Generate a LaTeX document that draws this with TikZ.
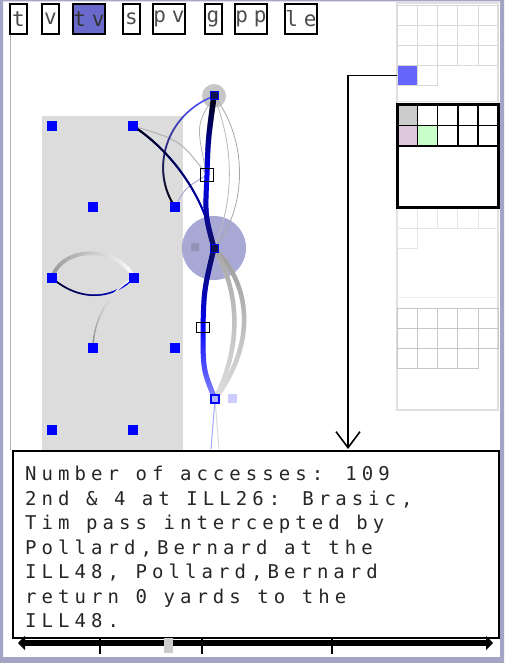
\documentclass[tikz,border=0pt]{standalone}
\usepackage{fontspec}
\usetikzlibrary{arrows.meta,fadings,backgrounds}
\newfontfamily\infofont[LetterSpace=26.6]{DejaVu Sans Mono}
\newfontfamily\buttonfont{DejaVu Sans Mono}
\definecolor{framecolor}{HTML}{A4A4C4}
\definecolor{panelgray}{HTML}{DCDCDC}
\definecolor{selcolor}{HTML}{6666FF}
\definecolor{tabcolor}{HTML}{6A6ACC}
\definecolor{zonecolor}{HTML}{9999CC}
\definecolor{pinkcell}{HTML}{DDC8DD}
\definecolor{greencell}{HTML}{C8FFC8}
\definecolor{textgray}{HTML}{262626}
\definecolor{navy}{HTML}{101050}
\tikzfading[name=fade down, top color=transparent!0, bottom color=transparent!100]
\tikzfading[name=fade up, top color=transparent!100, bottom color=transparent!0]
\tikzfading[name=fade right, left color=transparent!0, right color=transparent!100]
\newcommand{\nodecolor}{blue}
\newcommand{\nodesize}{10pt}
\newcommand{\cellw}{20.25}
\newcommand{\gap}{\kern5.8pt}
\tikzset{
  button/.style={draw, line width=2pt, minimum height=30pt, inner sep=0pt,
    font=\buttonfont\fontsize{21pt}{21pt}\selectfont, text=black!70},
  cell/.style={draw=gray!30, line width=0.8pt},
}

\begin{document}
\begin{tikzpicture}[x=1pt, y=-1pt]
\useasboundingbox (0,0) rectangle (504,663);
%buttons
\node[button, minimum width=17pt] (t) at (18.5,19) {t};
\node[button, minimum width=17pt] (v) at (50.5,19) {v};
\node[button, minimum width=32pt, fill=tabcolor, text=black!80] (tv) at (89,19) {t\gap v};
\node[button, minimum width=17pt] (s) at (131.5,19) {s};
\node[button, minimum width=32pt] (pv) at (169,19) {p\gap v};
\node[button, minimum width=17pt] (g) at (213,19) {g};
\node[button, minimum width=32pt] (pp) at (251,19) {p\gap p};
\node[button, minimum width=32pt] (le) at (301,19) {l\gap e};
\draw[gray!60] (10,35) -- (10,450);
%nodes
\node[fill=\nodecolor, inner sep=0pt, minimum size=\nodesize] (1) at (52,126) [rectangle] {};
\node[fill=\nodecolor, inner sep=0pt, minimum size=\nodesize] (2) at (133,126) [rectangle] {};
\node[fill=\nodecolor, inner sep=0pt, minimum size=\nodesize] (3) at (93,207) [rectangle] {};
\node[fill=\nodecolor, inner sep=0pt, minimum size=\nodesize] (4) at (175,207) [rectangle] {};
\node[fill=\nodecolor, inner sep=0pt, minimum size=\nodesize] (5) at (52,278) [rectangle] {};
\node[fill=\nodecolor, inner sep=0pt, minimum size=\nodesize] (6) at (134,278) [rectangle] {};
\node[fill=\nodecolor, inner sep=0pt, minimum size=\nodesize] (7) at (93,348) [rectangle] {};
\node[fill=\nodecolor, inner sep=0pt, minimum size=\nodesize] (8) at (175,348) [rectangle] {};
\node[fill=\nodecolor, inner sep=0pt, minimum size=\nodesize] (9) at (52,430) [rectangle] {};
\node[fill=\nodecolor, inner sep=0pt, minimum size=\nodesize] (10) at (133,430) [rectangle] {};
\node[fill=navy, draw=blue, line width=1pt, inner sep=0pt, minimum size=8pt] (11) at (214,96) [rectangle] {};
\node[fill=navy, draw=blue, line width=1pt, inner sep=0pt, minimum size=8pt] (12) at (214,248) [rectangle] {};
\node[fill=blue!30, draw=blue, line width=1.2pt, inner sep=0pt, minimum size=8pt] (13) at (215,399) [rectangle] {};
\node[draw, line width=1pt, inner sep=0pt, minimum width=13pt, minimum height=13pt] (14) at (207,175) {};
\node[draw, line width=1pt, inner sep=0pt, minimum width=13pt, minimum height=10pt] (15) at (203,327) {};
\coordinate (tail1) at (211,449);
\coordinate (tail2) at (219,449);
%panel and zones
\begin{scope}[on background layer]
\fill[panelgray] (42,116) rectangle (183,450);
\fill[gray!55, opacity=0.8] (11) circle (12pt);
\fill[zonecolor, opacity=0.85] (12) circle (32pt);
\fill[zonecolor!70!gray] (191,243) rectangle (199,251);
\fill[blue!20] (228,394) rectangle (237,403);
\end{scope}
%curves
\begin{scope}[on background layer]
\draw[gray!70, line width=0.8pt] (11.center) .. controls (249,140) and (247,210) .. (12.center);
\draw[gray!55, line width=0.8pt] (11.center) .. controls (235,150) and (234,200) .. (12.center);
\draw[gray!60, line width=0.8pt] (11.center) .. controls (196,125) .. (14.center);
\draw[gray!60, line width=1pt] (2.center) .. controls (180,140) .. (14.center);
\draw[blue!30!gray!50, line width=1pt] (4.center) .. controls (185,188) .. (14.center);
\draw[blue!70, line width=1.5pt] (11.center) .. controls (165,115) and (150,170) .. (4.center);
\draw[black, line width=2pt, path fading=fade up] (11.center) .. controls (165,115) and (150,170) .. (4.center);
\draw[\nodecolor, line width=2pt] (2.center) .. controls (170,150) and (205,195) .. (12.center);
\draw[black, line width=2pt, path fading=fade down] (2.center) .. controls (170,150) and (205,195) .. (12.center);
\draw[white, line width=4pt] (5.center) .. controls (62,245) and (118,245) .. (6.center);
\draw[gray!80, line width=4pt, path fading=fade right] (5.center) .. controls (62,245) and (118,245) .. (6.center);
\draw[\nodecolor, line width=1.5pt] (5.center) .. controls (80,302) and (112,300) .. (6.center);
\draw[black, line width=1.5pt, path fading=fade right] (5.center) .. controls (80,302) and (112,300) .. (6.center);
\draw[white, line width=1.5pt] (6.center) .. controls (110,290) and (93,320) .. (7.center);
\draw[gray, line width=1.5pt, path fading=fade up] (6.center) .. controls (110,290) and (93,320) .. (7.center);
\draw[gray!25, line width=4.5pt] (12.center) .. controls (256,290) and (252,350) .. (13.center);
\draw[gray!80, line width=4.5pt, path fading=fade down] (12.center) .. controls (256,290) and (252,350) .. (13.center);
\draw[gray!25, line width=4.5pt] (12.center) .. controls (242,295) and (240,350) .. (13.center);
\draw[gray!70, line width=4.5pt, path fading=fade down] (12.center) .. controls (242,295) and (240,350) .. (13.center);
\draw[\nodecolor, line width=5pt] (11.center) .. controls (208,140) .. (14.center) .. controls (205,215) .. (12.center);
\draw[black, line width=5.5pt, path fading=fade down] (11.center) .. controls (208,140) .. (14.center);
\draw[navy, line width=5pt, path fading=fade up] (14.center) .. controls (205,215) .. (12.center);
\draw[\nodecolor, line width=5pt] (12.center) .. controls (204,290) .. (15.center) .. controls (203,370) .. (13.center);
\draw[navy, line width=5pt, path fading=fade down] (12.center) .. controls (204,290) .. (15.center);
\draw[white, opacity=0.55, line width=5pt, path fading=fade up] (15.center) .. controls (203,370) .. (13.center);
\draw[blue!35, line width=1pt] (13.center) -- (tail1);
\draw[gray!30, line width=1pt] (13.center) -- (tail2);
\end{scope}
%grid
\draw[gray!25, line width=1.5pt] (397,3) rectangle (498,410);
\draw[gray!25, line width=1pt] (397,102) -- (498,102);
\draw[gray!15, line width=1pt] (397,297) -- (498,297);
\foreach \r in {0,1,2}
  \foreach \c in {0,...,4}
    \draw[cell] (397+\c*\cellw,5+\r*20) rectangle ++(\cellw,20);
\draw[cell] (397+\cellw,65) rectangle ++(\cellw,20);
\node[fill=selcolor, draw=gray!30, line width=0.8pt, inner sep=0pt, minimum width=\cellw pt, minimum height=20pt, anchor=north west] (sel) at (397,65) {};
\foreach \c in {0,...,4}
  \draw[cell, draw=gray!20] (397+\c*\cellw,208) rectangle ++(\cellw,20);
\draw[cell, draw=gray!20] (397,228) rectangle ++(\cellw,20);
\foreach \r in {0,1}
  \foreach \c in {0,...,4}
    \draw[cell, draw=gray!45] (397+\c*\cellw,308+\r*20) rectangle ++(\cellw,20);
\foreach \c in {0,...,3}
  \draw[cell, draw=gray!45] (397+\c*\cellw,348) rectangle ++(\cellw,20);
\fill[gray!40] (397,105) rectangle ++(\cellw,20.5);
\fill[pinkcell] (397,125.5) rectangle ++(\cellw,20.5);
\fill[greencell] (397+\cellw,125.5) rectangle ++(\cellw,20.5);
\foreach \r in {0,1}
  \foreach \c in {0,...,4}
    \draw[line width=1.5pt] (397+\c*\cellw,105+\r*20.5) rectangle ++(\cellw,20.5);
\draw[line width=3pt] (397,105) rectangle (498,207);
%info
\coordinate (drop) at (348,449);
\draw[line width=1.6pt, -{Straight Barb[length=16pt,width=24pt]}] (sel.west) -| (drop);
\node[draw, line width=2pt, inner sep=0pt, minimum width=486pt, minimum height=187pt, anchor=north west] (info) at (11.5,450) {};
\node[inner sep=0pt, anchor=north west, align=left, text=textgray,
  font=\infofont\fontsize{19pt}{24.5pt}\selectfont] (infotext) at (25,466)
  {Number of accesses: 109\\
   2nd \& 4 at ILL26: Brasic,\\
   Tim pass intercepted by\\
   Pollard,Bernard at the\\
   ILL48, Pollard,Bernard\\
   return 0 yards to the\\
   ILL48.};
%timeline
\coordinate (barl) at (18,643);
\coordinate (barr) at (493,643);
\draw[line width=6pt, {Triangle[length=7pt,width=14pt]}-{Triangle[length=7pt,width=14pt]}] (barl) -- (barr);
\foreach \x in {100,202,332}
  \draw[line width=2pt] (\x,637) -- (\x,654);
\fill[gray!40] (164,638) rectangle (173,653);
%frame
\fill[framecolor, even odd rule] (0,0) rectangle (504,663) (3,1.5) rectangle (500,657);
\end{tikzpicture}
\end{document}
